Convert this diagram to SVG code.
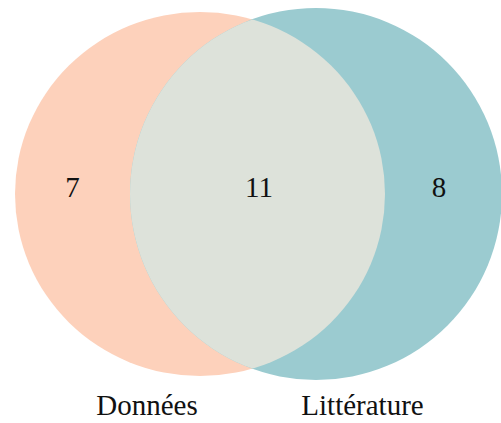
<svg xmlns="http://www.w3.org/2000/svg" width="501" height="423" viewBox="0 0 501 423">
<style>
text{font-family:"Liberation Serif","Times New Roman",serif;fill:#111;text-anchor:middle}
.n{font-size:29px}
.l{font-size:29px}
</style>
<defs>
<clipPath id="cl"><ellipse cx="200" cy="194" rx="185" ry="182"/></clipPath>
</defs>
<rect width="501" height="423" fill="#fff"/>
<g id="donnees">
<ellipse cx="200" cy="194" rx="185" ry="182" fill="#FDD1BB"/>
</g>
<g id="litterature">
<circle cx="316" cy="194" r="186" fill="#9BCBD0"/>
</g>
<g id="intersection">
<circle cx="316" cy="194" r="186" fill="#DDE2DA" clip-path="url(#cl)"/>
</g>
<g id="labels">
<text class="n" x="72.5" y="197">7</text>
<text class="n" x="259" y="197">11</text>
<text class="n" x="439" y="197">8</text>
<text class="l" x="147" y="415">Données</text>
<text class="l" x="362.5" y="415">Littérature</text>
</g>
</svg>
